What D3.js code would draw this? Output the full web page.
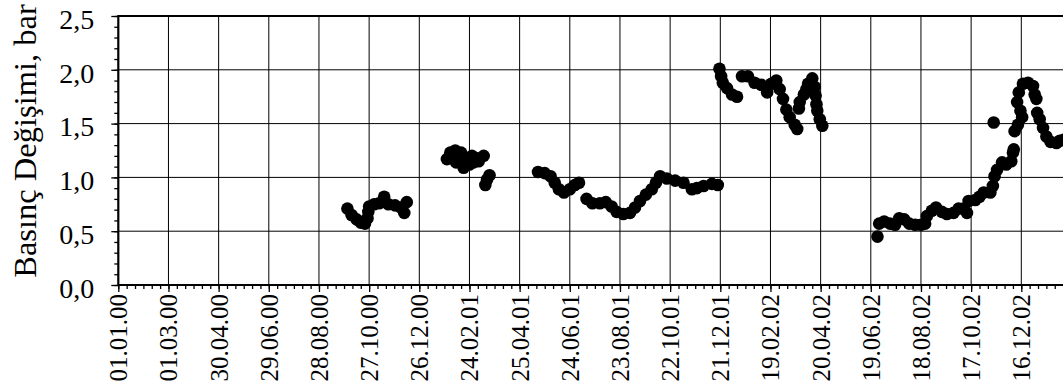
<!DOCTYPE html>
<html>
<head>
<meta charset="utf-8">
<script src="https://cdn.jsdelivr.net/npm/d3@7"></script>
<style>
  html, body { margin: 0; padding: 0; background: #fff; overflow: hidden; }
  svg { display: block; }
</style>
</head>
<body>
<svg id="chart" width="1063" height="391"></svg>
<script>
// Pressure readings (date, change in bar)
const readDates = [
  "01.10.00","06.10.00","12.10.00","17.10.00","22.10.00","25.10.00","26.10.00","27.10.00",
  "02.11.00","08.11.00","14.11.00","19.11.00","27.11.00","04.12.00","08.12.00","11.12.00",
  "28.01.01","01.02.01","07.02.01","08.02.01","10.02.01","14.02.01","17.02.01","21.02.01",
  "24.02.01","27.02.01","01.03.01","04.03.01","07.03.01","13.03.01","15.03.01","17.03.01","20.03.01",
  "17.05.01","25.05.01","01.06.01","06.06.01","11.06.01","17.06.01","24.06.01","30.06.01",
  "05.07.01","14.07.01","21.07.01","30.07.01","06.08.01","13.08.01","19.08.01","27.08.01",
  "04.09.01","10.09.01","16.09.01","23.09.01","30.09.01","05.10.01","10.10.01","18.10.01",
  "28.10.01","07.11.01","17.11.01","23.11.01","01.12.01","11.12.01","18.12.01",
  "20.12.01","22.12.01","24.12.01","29.12.01","04.01.02","10.01.02","16.01.02","23.01.02",
  "31.01.02","08.02.02","15.02.02","20.02.02","26.02.02","02.03.02","06.03.02","10.03.02",
  "14.03.02","20.03.02","23.03.02","25.03.02","26.03.02","31.03.02","03.04.02","05.04.02",
  "10.04.02","13.04.02","14.04.02","15.04.02","16.04.02","19.04.02","22.04.02",
  "27.06.02","29.06.02","05.07.02","12.07.02","18.07.02","23.07.02","29.07.02","04.08.02",
  "11.08.02","18.08.02","23.08.02","25.08.02","31.08.02","05.09.02","12.09.02","18.09.02",
  "26.09.02","02.10.02","08.10.02","12.10.02","14.10.02","22.10.02","27.10.02","01.11.02",
  "09.11.02","12.11.02","13.11.02","14.11.02","17.11.02","23.11.02","28.11.02","04.12.02",
  "06.12.02","07.12.02","08.12.02","11.12.02","12.12.02","13.12.02","15.12.02","17.12.02",
  "18.12.02","24.12.02","30.12.02","01.01.03","03.01.03","04.01.03","07.01.03","11.01.03",
  "15.01.03","20.01.03","27.01.03","31.01.03","05.02.03"
];
const pressure = [
  0.71,0.65,0.61,0.58,0.57,0.62,0.68,0.73,
  0.75,0.76,0.82,0.75,0.74,0.72,0.67,0.77,
  1.17,1.23,1.25,1.14,1.19,1.23,1.09,1.17,
  1.12,1.20,1.14,1.18,1.15,1.20,0.93,0.98,1.02,
  1.05,1.04,1.01,0.95,0.89,0.86,0.89,0.93,
  0.95,0.80,0.76,0.76,0.77,0.73,0.68,0.66,
  0.67,0.72,0.78,0.84,0.89,0.95,1.01,0.99,
  0.97,0.95,0.89,0.90,0.92,0.94,0.93,
  2.01,1.94,1.88,1.83,1.77,1.75,1.94,1.94,
  1.88,1.86,1.79,1.87,1.90,1.82,1.73,1.63,
  1.56,1.49,1.45,1.64,1.70,1.77,1.82,1.87,
  1.92,1.84,1.76,1.68,1.62,1.54,1.48,
  0.45,0.57,0.59,0.57,0.56,0.62,0.61,0.57,
  0.56,0.56,0.57,0.64,0.69,0.72,0.68,0.66,
  0.67,0.71,0.71,0.67,0.78,0.79,0.82,0.86,
  0.86,0.92,1.51,1.01,1.07,1.14,1.12,1.15,
  1.23,1.26,1.43,1.70,1.49,1.79,1.62,1.56,
  1.87,1.88,1.85,1.77,1.73,1.60,1.54,1.46,
  1.38,1.33,1.32,1.34,1.35
];

// Axis ticks
const xTickLabels = [
  "01.01.00","01.03.00","30.04.00","29.06.00","28.08.00","27.10.00","26.12.00",
  "24.02.01","25.04.01","24.06.01","23.08.01","22.10.01","21.12.01",
  "19.02.02","20.04.02","19.06.02","18.08.02","17.10.02","16.12.02"
];
const xDomain = ["01.01.00", "14.02.03"];
const yTickValues = [0, 0.5, 1.0, 1.5, 2.0, 2.5];
const yTickLabels = ["0,0","0,5","1,0","1,5","2,0","2,5"];
const yTitle = "Basınç Değişimi, bar";

// Pick the first installed Times-like face; otherwise a sans face at reduced size
function fontAvailable(name) {
  const ctx = document.createElement("canvas").getContext("2d");
  const sample = "Basınç 0123456789,.";
  return ["monospace", "sans-serif"].every(fb => {
    ctx.font = `72px ${fb}`;
    const w0 = ctx.measureText(sample).width;
    ctx.font = `72px "${name}", ${fb}`;
    return ctx.measureText(sample).width !== w0;
  });
}
const serifFaces = ["Liberation Serif", "Times New Roman", "Tinos", "Nimbus Roman",
  "Nimbus Roman No9 L", "DejaVu Serif", "Noto Serif", "FreeSerif", "Georgia"];
const serifFace = serifFaces.find(fontAvailable);
const fontFamily = serifFace ? `"${serifFace}", serif` : `"Liberation Sans", Arial, sans-serif`;
const sizeScale = serifFace ? 1 : 0.88;
const fs = px => `${(px * sizeScale).toFixed(1)}px`;

const parse = d3.utcParse("%d.%m.%y");
const svg = d3.select("#chart");
svg.append("rect").attr("width", 1063).attr("height", 391).attr("fill", "#fff");

const plot = { left: 118.3, top: 16, bottom: 285, pxPerDay: 0.83611 };
const d0 = parse(xDomain[0]), d1 = parse(xDomain[1]);
const spanDays = d3.utcDay.count(d0, d1);
const x = d3.scaleUtc().domain([d0, d1])
  .range([plot.left, plot.left + spanDays * plot.pxPerDay]);
const y = d3.scaleLinear().domain([0, 2.5]).range([plot.bottom, plot.top]);
const right = x.range()[1];

const majorDates = xTickLabels.map(parse);
const minorDates = d3.range(0, spanDays + 1, 10).map(n => d3.utcDay.offset(d0, n));

// Grid
const grid = svg.append("g").attr("stroke", "#000").attr("stroke-width", 1);
grid.selectAll("line.v").data(majorDates.slice(1)).join("line")
  .attr("class", "v")
  .attr("x1", d => x(d)).attr("x2", d => x(d))
  .attr("y1", plot.top).attr("y2", plot.bottom);
grid.selectAll("line.h").data(yTickValues.filter(v => v > 0 && v < 2.5)).join("line")
  .attr("class", "h")
  .attr("x1", plot.left).attr("x2", right)
  .attr("y1", d => y(d)).attr("y2", d => y(d));

// Points
svg.append("g").selectAll("circle")
  .data(readDates.map((d, i) => ({ date: parse(d), value: pressure[i] })))
  .join("circle")
  .attr("cx", d => x(d.date))
  .attr("cy", d => y(d.value))
  .attr("r", 6.3)
  .attr("fill", "#000");

// X axis: minor ticks
const xMinor = svg.append("g").attr("transform", `translate(0,${plot.bottom})`)
  .call(d3.axisBottom(x).tickValues(minorDates).tickSize(4).tickFormat(""));
xMinor.select(".domain").remove();
xMinor.selectAll("line").attr("stroke-width", 1.3);

// X axis: major ticks and labels
const xMajor = svg.append("g").attr("transform", `translate(0,${plot.bottom})`)
  .call(d3.axisBottom(x).tickValues(majorDates).tickSize(7)
    .tickFormat((d, i) => xTickLabels[i]));
xMajor.select(".domain").remove();
xMajor.selectAll("line").attr("stroke-width", 1.3);
xMajor.selectAll("text")
  .attr("transform", "rotate(-90)")
  .attr("x", -9).attr("y", 0).attr("dy", "0.34em")
  .attr("text-anchor", "end")
  .style("font-size", fs(25))
  .style("font-family", fontFamily);

// Y axis: minor ticks
const yMinor = svg.append("g").attr("transform", `translate(${plot.left},0)`)
  .call(d3.axisLeft(y).tickValues(d3.range(0, 26).map(k => k / 10)).tickSize(4).tickFormat(""));
yMinor.select(".domain").remove();
yMinor.selectAll("line").attr("stroke-width", 1.3);

// Y axis: major ticks and labels
const yMajor = svg.append("g").attr("transform", `translate(${plot.left},0)`)
  .call(d3.axisLeft(y).tickValues(yTickValues).tickSize(7).tickPadding(17)
    .tickFormat((d, i) => yTickLabels[i]));
yMajor.select(".domain").remove();
yMajor.selectAll("line").attr("stroke-width", 1.3);
yMajor.selectAll("text")
  .attr("dy", "0.44em")
  .style("font-size", fs(28))
  .style("font-family", fontFamily);

// Frame
const frame = svg.append("g").attr("stroke", "#000").attr("stroke-width", 2.2);
frame.append("line").attr("x1", plot.left).attr("x2", right).attr("y1", plot.top).attr("y2", plot.top);
frame.append("line").attr("x1", plot.left).attr("x2", right).attr("y1", plot.bottom).attr("y2", plot.bottom);
frame.append("line").attr("x1", plot.left).attr("x2", plot.left).attr("y1", plot.top - 1).attr("y2", plot.bottom + 1);
frame.append("line").attr("x1", right).attr("x2", right).attr("y1", plot.top).attr("y2", plot.bottom);

// Y title
svg.append("text")
  .attr("transform", `translate(36,141) rotate(-90)`)
  .attr("text-anchor", "middle")
  .style("font-size", fs(32.5))
  .style("font-family", fontFamily)
  .text(yTitle);
</script>
</body>
</html>
